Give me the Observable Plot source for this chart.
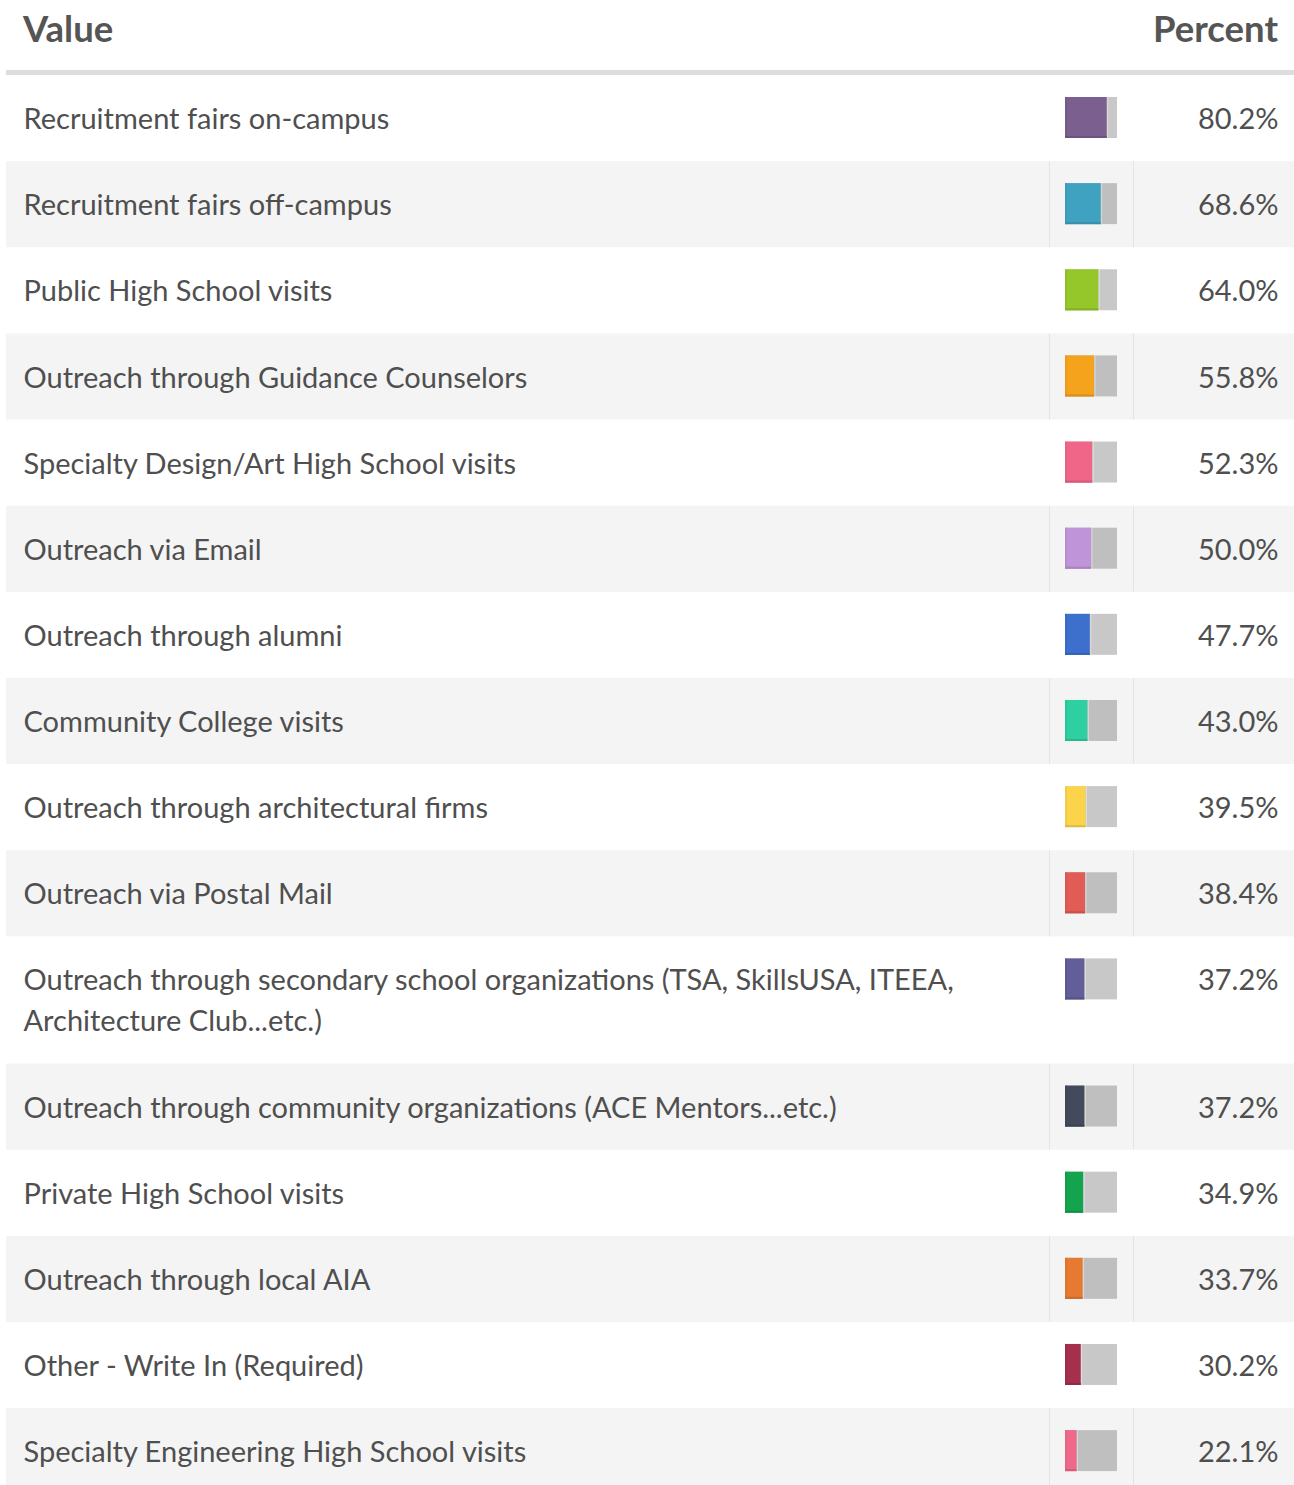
<!DOCTYPE html>
<html><head><meta charset="utf-8">
<script src="https://cdn.jsdelivr.net/npm/d3@7"></script>
<script src="https://cdn.jsdelivr.net/npm/@observablehq/plot@0.6"></script>
<style>
body{margin:0;background:#fff;font-family:Lato,sans-serif;}
#wrap{width:1294px;}
.hdr{position:relative;height:70px;margin-left:6px;border-bottom:5px solid #ddd;}
.hdr span{position:absolute;top:6px;font-weight:bold;font-size:36.5px;color:#555;}
#chart svg{display:block;}
</style></head>
<body>
<div id="wrap"><div class="hdr" id="hdr"></div><div id="chart"></div></div>
<script>
const columnTitles = ["Value", "Percent"];
const labels = [
  "Recruitment fairs on-campus",
  "Recruitment fairs off-campus",
  "Public High School visits",
  "Outreach through Guidance Counselors",
  "Specialty Design/Art High School visits",
  "Outreach via Email",
  "Outreach through alumni",
  "Community College visits",
  "Outreach through architectural firms",
  "Outreach via Postal Mail",
  "Outreach through secondary school organizations (TSA, SkillsUSA, ITEEA, Architecture Club...etc.)",
  "Outreach through community organizations (ACE Mentors...etc.)",
  "Private High School visits",
  "Outreach through local AIA",
  "Other - Write In (Required)",
  "Specialty Engineering High School visits"
];
const percents = [80.2, 68.6, 64.0, 55.8, 52.3, 50.0, 47.7, 43.0, 39.5, 38.4, 37.2, 37.2, 34.9, 33.7, 30.2, 22.1];
const colors = ["#7b5f8e", "#3fa2c1", "#95c72b", "#f5a31c", "#f06688", "#bf94d9", "#3d6fcc", "#2ecfa0",
                "#fcd44c", "#e05c55", "#615e9a", "#434a5c", "#14a44d", "#e57a30", "#a5304e", "#f0688a"];

// header
const hdr = document.getElementById("hdr");
hdr.innerHTML = `<span style="left:17px">${columnTitles[0]}</span><span style="right:16px">${columnTitles[1]}</span>`;

const FS = 29, ROW = 86.14, LINE = 41, WRAP = 1000;
const ctx = document.createElement("canvas").getContext("2d");
ctx.font = `${FS}px Lato`;
function wrap(text, max) {
  const words = text.split(" ");
  const lines = [];
  let cur = "";
  for (const w of words) {
    const t = cur ? cur + " " + w : w;
    if (ctx.measureText(t).width > max && cur) { lines.push(cur); cur = w; }
    else cur = t;
  }
  if (cur) lines.push(cur);
  return lines;
}
let acc = 0;
const rows = labels.map((label, i) => {
  const lines = wrap(label, WRAP);
  const h = ROW + (lines.length - 1) * LINE;
  const r = {i, label, text: lines.join("\n"), pct: percents[i], color: colors[i], y0: acc, y1: acc + h};
  acc += h;
  return r;
});
const shaded = rows.filter(d => d.i % 2 === 1);
const H = 1410;
const dark = c => d3.color(c).darker(0.35).formatHex();
const LH = LINE / FS;
const labelDy = 33 - (LH - 1) * 0.71 * FS;

const chart = Plot.plot({
  width: 1294, height: H,
  marginLeft: 6, marginRight: 0, marginTop: 0, marginBottom: 0,
  x: {domain: [0, 100], range: [1065, 1117], axis: null},
  y: {domain: [0, H], range: [0, H], axis: null},
  color: {type: "identity"},
  style: {fontFamily: "Lato, sans-serif", background: "white"},
  marks: [
    Plot.rect(shaded, {y1: "y0", y2: "y1", fill: "#f4f4f4"}),
    Plot.ruleX(shaded, {x: 0, y1: "y0", y2: "y1", dx: -16, stroke: "#e4e4e4"}),
    Plot.ruleX(shaded, {x: 100, y1: "y0", y2: "y1", dx: 16, stroke: "#e4e4e4"}),
    Plot.rect(rows, {x1: 0, x2: 100, y1: d => d.y0 + 22, y2: d => d.y0 + 63, fill: "black", fillOpacity: 0.215}),
    Plot.rect(rows, {x1: 0, x2: "pct", y1: d => d.y0 + 22, y2: d => d.y0 + 63, fill: "color"}),
    Plot.rect(rows, {x1: 0, x2: "pct", y1: d => d.y0 + 61, y2: d => d.y0 + 63, fill: d => dark(d.color)}),
    Plot.ruleX(rows, {x: 0, y1: d => d.y0 + 22, y2: d => d.y0 + 63, dx: 0.5, stroke: d => dark(d.color), strokeOpacity: 0.7}),
    Plot.ruleX(rows, {x: "pct", y1: d => d.y0 + 22, y2: d => d.y0 + 63, dx: 0.5, stroke: "white", strokeOpacity: 0.4}),
    Plot.text(rows, {y: "y0", text: "text", frameAnchor: "left", textAnchor: "start", lineAnchor: "top",
      dx: 17, dy: labelDy, fontSize: FS, lineHeight: LH, fill: "#4f4f4f"}),
    Plot.text(rows, {y: "y0", text: d => d.pct.toFixed(1) + "%", frameAnchor: "right", textAnchor: "end", lineAnchor: "top",
      dx: -16, dy: 33, fontSize: FS, fill: "#4f4f4f"})
  ]
});
document.getElementById("chart").append(chart);
</script>
</body></html>
